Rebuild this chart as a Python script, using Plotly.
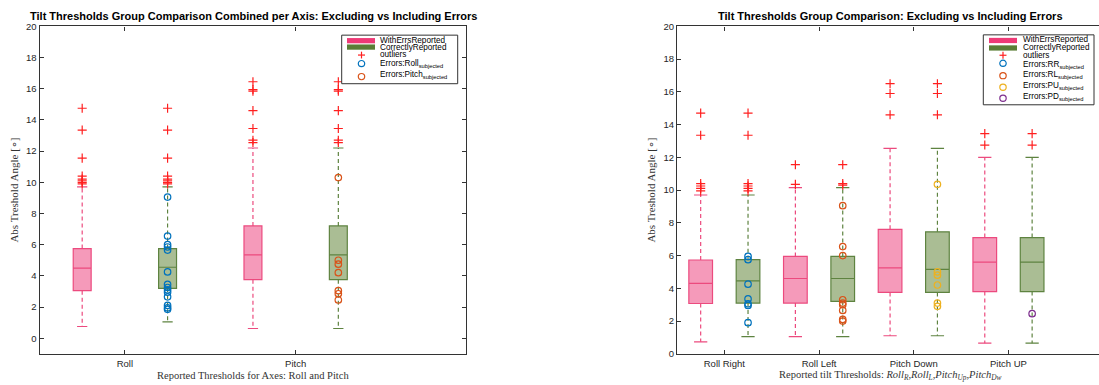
import plotly.graph_objects as go

W, H = 1099, 385

# ---------------- data: thresholds combined per axis ----------------
axis_groups = ["Roll", "Pitch"]
axis_ticks = [1, 2]
# five-number summaries: lower whisker, q1, median, q3, upper whisker
axis_with_errs = [[0.75, 3.05, 4.50, 5.75, 9.70],
                  [0.62, 3.75, 5.35, 7.20, 12.20]]
axis_correct = [[1.05, 3.20, 4.55, 5.75, 9.70],
                [0.62, 3.75, 5.35, 7.20, 12.20]]
axis_outliers = [[14.75, 13.35, 11.55, 10.40, 10.20, 10.10, 10.00, 9.90],
                 [16.45, 15.95, 15.85, 14.60, 13.45, 12.70, 12.55]]
axis_err_roll = [9.05, 6.55, 6.00, 5.85, 5.65, 4.25, 3.45, 3.25, 3.10, 2.95, 2.65, 2.10, 1.95, 1.85]
axis_err_pitch = [10.30, 5.00, 4.75, 4.20, 3.05, 2.85, 2.45]

# ---------------- data: thresholds per tilt direction ----------------
tilt_groups = ["Roll Right", "Roll Left", "Pitch Down", "Pitch UP"]
tilt_ticks = [1, 2, 3, 4]
tilt_with_errs = [[0.73, 3.07, 4.30, 5.73, 9.70],
                  [1.05, 3.10, 4.60, 5.95, 10.15],
                  [1.10, 3.75, 5.25, 7.60, 12.55],
                  [0.65, 3.80, 5.60, 7.10, 12.00]]
tilt_correct = [[1.05, 3.10, 4.45, 5.75, 9.70],
                [1.05, 3.20, 4.60, 5.95, 10.15],
                [1.10, 3.75, 5.15, 7.45, 12.55],
                [0.65, 3.80, 5.60, 7.10, 12.00]]
tilt_out_with = [[14.70, 13.35, 10.40, 10.25, 10.10, 9.95],
                 [11.55, 10.35],
                 [16.50, 15.90, 14.60],
                 [13.45, 12.75]]
tilt_out_correct = [[14.70, 13.35, 10.40, 10.25, 10.10, 9.95],
                    [11.55, 10.40, 10.30],
                    [16.50, 15.90, 14.60],
                    [13.45, 12.75]]
tilt_err_rr = [5.95, 5.75, 4.25, 3.35, 3.05, 2.95, 1.90]
tilt_err_rl = [9.05, 6.55, 6.00, 3.30, 3.10, 3.00, 2.65, 2.10, 2.00]
tilt_err_pu = [10.35, 5.00, 4.80, 4.20, 3.10, 2.90]
tilt_err_pd = [2.45]

# ---------------- styling ----------------
PINK_FILL, PINK_EDGE = "#F59ABA", "#EC4A7E"
GREEN_FILL, GREEN_EDGE = "#AABD94", "#5E8340"
PINK_KEY, GREEN_KEY = "#EE3A76", "#5A7E36"
OUT_RED = "#FF1F1F"
ERR_COLORS = ["#0072BD", "#D95319", "#EDB120", "#7E2F8E"]
AX = "#333333"
SANS = "Liberation Sans, Arial, sans-serif"
SERIF = "Liberation Serif, Times New Roman, serif"


def px(x):
    return x / W


def py(y):
    return 1 - y / H


fig = go.Figure()


def add_box(xa, ya, pos, stats, fill, edge, boxw, capw):
    lo, q1, med, q3, hi = stats
    fig.add_trace(go.Box(
        x=[pos], q1=[q1], median=[med], q3=[q3], lowerfence=[q1], upperfence=[q3],
        width=boxw, fillcolor=fill, line=dict(color=edge, width=1.2),
        whiskerwidth=0, boxpoints=False, xaxis=xa, yaxis=ya,
        showlegend=False, hoverinfo="skip"))
    # dashed whiskers
    fig.add_trace(go.Scatter(
        x=[pos, pos, None, pos, pos], y=[q3, hi, None, q1, lo], mode="lines",
        line=dict(color=edge, width=1.2, dash="4px,3px"),
        xaxis=xa, yaxis=ya, showlegend=False, hoverinfo="skip"))
    # whisker caps
    fig.add_trace(go.Scatter(
        x=[pos - capw / 2, pos + capw / 2, None, pos - capw / 2, pos + capw / 2],
        y=[hi, hi, None, lo, lo], mode="lines",
        line=dict(color=edge, width=1.2),
        xaxis=xa, yaxis=ya, showlegend=False, hoverinfo="skip"))


def add_points(xa, ya, pos, vals, symbol, color, size):
    fig.add_trace(go.Scatter(
        x=[pos] * len(vals), y=vals, mode="markers",
        marker=dict(symbol=symbol, size=size, color=color,
                    line=dict(color=color, width=1.2)),
        xaxis=xa, yaxis=ya, showlegend=False, hoverinfo="skip"))


# left panel: pink box left of the tick, green box right of it
for i, t in enumerate(axis_ticks):
    add_box("x", "y", t - 0.25, axis_with_errs[i], PINK_FILL, PINK_EDGE, 0.105, 0.06)
    add_box("x", "y", t + 0.25, axis_correct[i], GREEN_FILL, GREEN_EDGE, 0.105, 0.06)
    add_points("x", "y", t - 0.25, axis_outliers[i], "cross-thin", OUT_RED, 6.5)
    add_points("x", "y", t + 0.25, axis_outliers[i], "cross-thin", OUT_RED, 6.5)
add_points("x", "y", axis_ticks[0] + 0.25, axis_err_roll, "circle-open", ERR_COLORS[0], 6.5)
add_points("x", "y", axis_ticks[1] + 0.25, axis_err_pitch, "circle-open", ERR_COLORS[1], 6.5)

# right panel
tilt_errs = [tilt_err_rr, tilt_err_rl, tilt_err_pu, tilt_err_pd]
tilt_err_pos = [1, 2, 3, 4]
for i, t in enumerate(tilt_ticks):
    add_box("x2", "y2", t - 0.25, tilt_with_errs[i], PINK_FILL, PINK_EDGE, 0.25, 0.14)
    add_box("x2", "y2", t + 0.25, tilt_correct[i], GREEN_FILL, GREEN_EDGE, 0.25, 0.14)
    add_points("x2", "y2", t - 0.25, tilt_out_with[i], "cross-thin", OUT_RED, 6.5)
    add_points("x2", "y2", t + 0.25, tilt_out_correct[i], "cross-thin", OUT_RED, 6.5)
for k, vals in enumerate(tilt_errs):
    add_points("x2", "y2", tilt_err_pos[k] + 0.25, vals, "circle-open", ERR_COLORS[k], 6.5)

axis_common = dict(showline=True, linecolor=AX, linewidth=1.2, ticks="inside",
                   ticklen=4, tickwidth=1, tickcolor=AX, showgrid=False, zeroline=False,
                   tickfont=dict(family=SANS, size=9.5, color="#262626"))

fig.update_layout(
    width=W, height=H, margin=dict(l=0, r=0, t=0, b=0),
    paper_bgcolor="white", plot_bgcolor="white", boxmode="overlay",
    xaxis=dict(domain=[px(39.5), px(466.4)], range=[0.5, 3.0], tickvals=axis_ticks,
               ticktext=axis_groups, mirror="ticks", anchor="y", ticklabelstandoff=1,
               **axis_common),
    yaxis=dict(domain=[py(358), py(21)], range=[-1, 20], tickvals=list(range(0, 21, 2)),
               mirror="ticks", anchor="x", **axis_common),
    xaxis2=dict(domain=[px(677), 1.0], range=[0.5, 0.5 + (W - 677) / 94.7], tickvals=tilt_ticks,
                ticktext=tilt_groups, mirror="ticks", anchor="y2", ticklabelstandoff=1,
                **axis_common),
    yaxis2=dict(domain=[py(358), py(21)], range=[0, 20], tickvals=list(range(0, 21, 2)),
                mirror=False, anchor="x2", **axis_common),
)

ann = []
shapes = []

# titles and axis titles
ann.append(dict(x=px(253), y=py(10.5), text="<b>Tilt Thresholds Group Comparison Combined per Axis: Excluding vs Including Errors</b>",
                font=dict(family=SANS, size=11, color="black")))
ann.append(dict(x=px(890), y=py(10.5), text="<b>Tilt Thresholds Group Comparison: Excluding vs Including Errors</b>",
                font=dict(family=SANS, size=11, color="black")))
ann.append(dict(x=px(253), y=py(380), text="Reported Thresholds for Axes: Roll and Pitch",
                font=dict(family=SERIF, size=10.5, color="#333333")))
ann.append(dict(x=px(890), y=py(380.5),
                text="Reported tilt Thresholds: <i>Roll<sub>R</sub></i>,<i>Roll<sub>L</sub></i>,"
                     "<i>Pitch<sub>Up</sub></i>,<i>Pitch<sub>Dw</sub></i>",
                font=dict(family=SERIF, size=10.5, color="#333333")))
for xc in (15, 652):
    ann.append(dict(x=px(xc), y=py(190),
                    text="Abs Treshold Angle [<span style='font-family:DejaVu Sans'>∘</span>]",
                    textangle=-90, font=dict(family=SERIF, size=11, color="#333333")))


def legend(x0, x1, y0, y1, key_x0, key_x1, mark_x, text_x, rows):
    shapes.append(dict(type="rect", xref="paper", yref="paper", x0=px(x0), x1=px(x1),
                       y0=py(y1), y1=py(y0), line=dict(color="#333333", width=1),
                       fillcolor="white", layer="above"))
    for kind, color, label, ym, yt in rows:
        if kind == "patch":
            shapes.append(dict(type="rect", xref="paper", yref="paper", x0=px(key_x0), x1=px(key_x1),
                               y0=py(ym + 2.7), y1=py(ym - 2.7), line=dict(width=0),
                               fillcolor=color, layer="above"))
        elif kind == "plus":
            for dx, dy in ((3.5, 0), (0, 3.5)):
                shapes.append(dict(type="line", xref="paper", yref="paper",
                                   x0=px(mark_x - dx), x1=px(mark_x + dx),
                                   y0=py(ym - dy), y1=py(ym + dy),
                                   line=dict(color=color, width=1.2), layer="above"))
        else:
            shapes.append(dict(type="circle", xref="paper", yref="paper",
                               x0=px(mark_x - 3.2), x1=px(mark_x + 3.2),
                               y0=py(ym + 3.2), y1=py(ym - 3.2),
                               line=dict(color=color, width=1.2), layer="above"))
        ann.append(dict(x=px(text_x), y=py(yt), text=label, xanchor="left",
                        font=dict(family=SANS, size=8.2, color="black")))


legend(341.7, 457.7, 30, 80, 347, 375, 361.5, 378,
       [("patch", PINK_KEY, "WithErrsReported", 35.7, 35.0),
        ("patch", GREEN_KEY, "CorrectlyReported", 42.3, 42.3),
        ("plus", OUT_RED, "outliers", 50.5, 50.0),
        ("circle", ERR_COLORS[0], "Errors:Roll<sub>subjected</sub>", 59.3, 59.5),
        ("circle", ERR_COLORS[1], "Errors:Pitch<sub>subjected</sub>", 72.7, 71.0)])
legend(983.3, 1094, 29.7, 101.7, 989, 1017, 1003, 1021,
       [("patch", PINK_KEY, "WithErrsReported", 35.5, 34.8),
        ("patch", GREEN_KEY, "CorrectlyReported", 43.2, 42.8),
        ("plus", OUT_RED, "outliers", 50.7, 50.5),
        ("circle", ERR_COLORS[0], "Errors:RR<sub>subjected</sub>", 59.0, 61.0),
        ("circle", ERR_COLORS[1], "Errors:RL<sub>subjected</sub>", 71.7, 71.5),
        ("circle", ERR_COLORS[2], "Errors:PU<sub>subjected</sub>", 83.7, 82.5),
        ("circle", ERR_COLORS[3], "Errors:PD<sub>subjected</sub>", 95.0, 93.5)])

for a in ann:
    a.setdefault("xref", "paper")
    a.setdefault("yref", "paper")
    a.setdefault("showarrow", False)
    a.setdefault("xanchor", "center")
    a.setdefault("yanchor", "middle")

fig.update_layout(annotations=ann, shapes=shapes)
fig.write_html("out.html")
